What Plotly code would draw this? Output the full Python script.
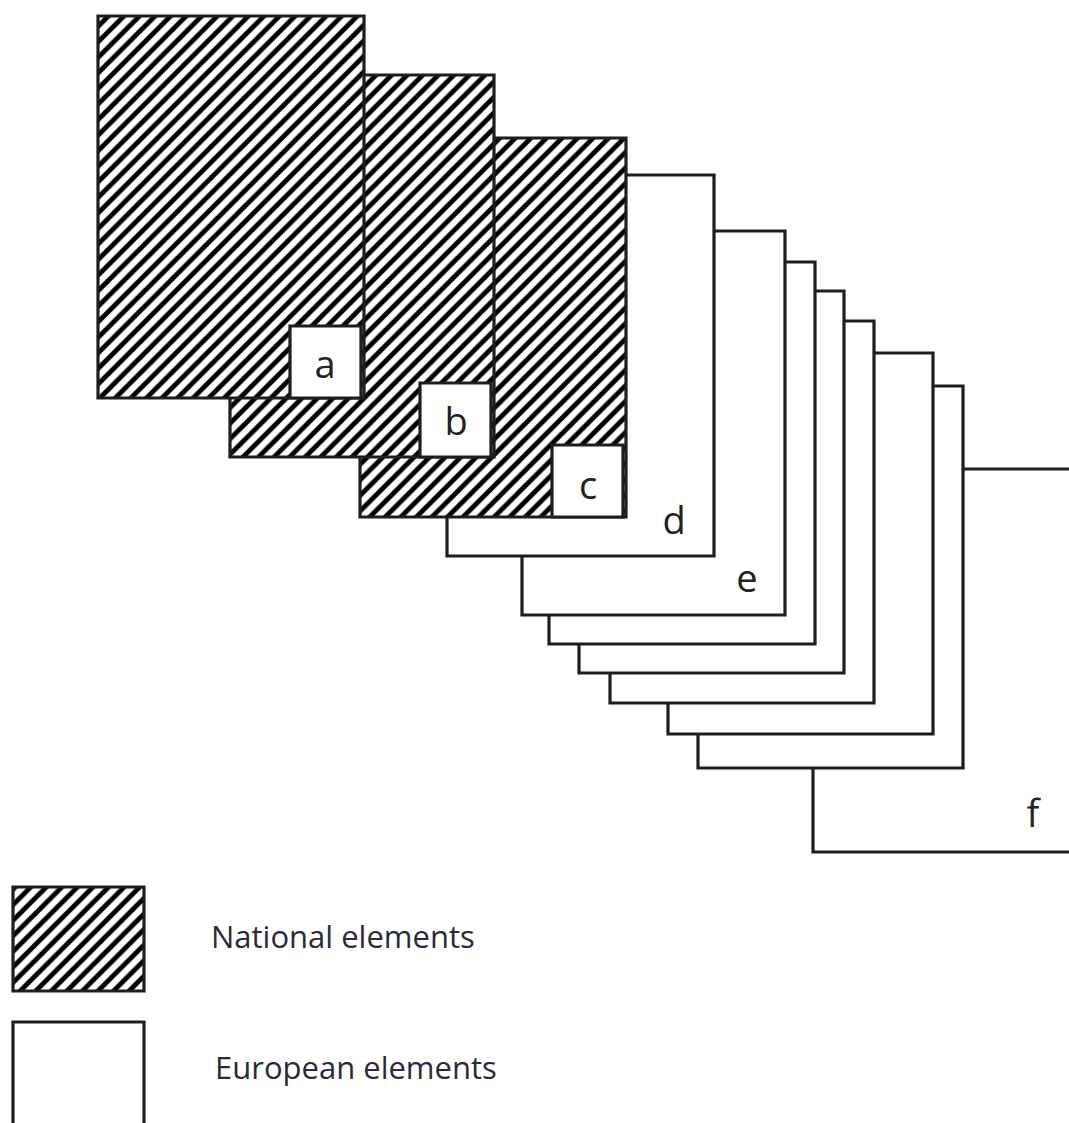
import plotly.graph_objects as go

# Panels (pixel-like diagram coordinates, y grows downward)
panel_labels = ["a", "b", "c", "d", "e", "", "", "", "", "", "f"]
panel_x0 = [98, 230, 360, 447, 522, 549, 579, 610, 668, 698, 813]
panel_x1 = [364, 494, 626, 714, 785, 815, 844, 874, 933, 963, 1090]
panel_y0 = [16, 75, 138, 175, 231, 262, 291, 321, 353, 386, 469]
panel_y1 = [398, 457, 517, 556, 615, 644, 673, 703, 734, 768, 852]
panel_national = [True, True, True, False, False, False, False, False, False, False, False]

# Label boxes for national panels
box_x0 = [290, 420, 552]
box_y0 = [326, 383, 445]

# Label text positions
label_x = [325, 456, 588, 674, 747, None, None, None, None, None, 1033]
label_y = [368, 425, 489, 524, 582, None, None, None, None, None, 817]

# Legend
legend_names = ["National elements", "European elements"]
legend_box_x0 = [13, 13]
legend_box_x1 = [144, 144]
legend_box_y0 = [887, 1022]
legend_box_y1 = [991, 1126]
legend_text_x = [211, 215]
legend_text_y = [940, 1071]
legend_national = [True, False]

LINE = dict(color="#1e1e1e", width=3.2)
HATCH = dict(shape="/", fgcolor="#000000", bgcolor="white", size=11, solidity=0.44, fgopacity=1)


def rect_trace(x0, x1, y0, y1, hatched):
    kw = dict(
        x=[x0, x1, x1, x0, x0, x1],
        y=[y0, y0, y1, y1, y0, y0],
        mode="lines",
        fill="toself",
        line=LINE,
        fillcolor="white",
        hoverinfo="skip",
        showlegend=False,
    )
    if hatched:
        kw["fillpattern"] = HATCH
    return go.Scatter(**kw)


fig = go.Figure()

n = len(panel_labels)
for i in range(n - 1, -1, -1):
    fig.add_trace(rect_trace(panel_x0[i], panel_x1[i], panel_y0[i], panel_y1[i], panel_national[i]))
    if panel_national[i]:
        fig.add_trace(rect_trace(box_x0[i], panel_x1[i] - 3, box_y0[i], panel_y1[i], False))
    if panel_labels[i] and label_x[i] is not None:
        fig.add_trace(go.Scatter(
            x=[label_x[i]], y=[label_y[i]], mode="text", text=[panel_labels[i]],
            textfont=dict(family="Open Sans, Noto Sans", size=38, color="#222222"),
            hoverinfo="skip", showlegend=False))

for j in range(len(legend_names)):
    fig.add_trace(rect_trace(legend_box_x0[j], legend_box_x1[j], legend_box_y0[j], legend_box_y1[j], legend_national[j]))
    fig.add_trace(go.Scatter(
        x=[legend_text_x[j]], y=[legend_text_y[j]], mode="text", text=[legend_names[j]],
        textposition="middle right",
        textfont=dict(family="Open Sans, Noto Sans", size=31, color="#2a2a3a"),
        hoverinfo="skip", showlegend=False))

fig.update_layout(
    width=1069, height=1123,
    margin=dict(l=0, r=0, t=0, b=0),
    paper_bgcolor="white", plot_bgcolor="white",
    xaxis=dict(range=[0, 1069], visible=False, fixedrange=True),
    yaxis=dict(range=[1123, 0], visible=False, fixedrange=True),
)

fig.write_html(
    "out.html",
    config={"displayModeBar": False, "staticPlot": True},
    post_script="document.body.style.margin='0';document.body.style.overflow='hidden';",
)
